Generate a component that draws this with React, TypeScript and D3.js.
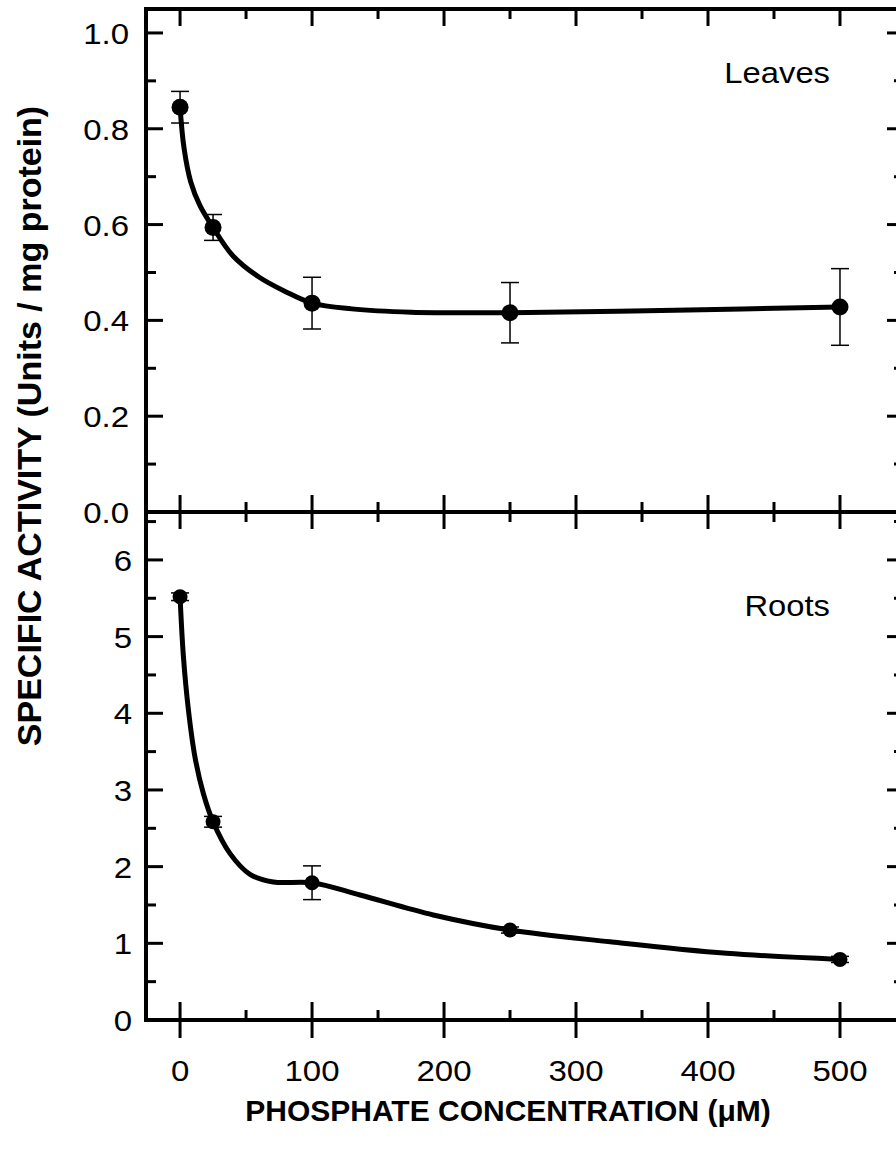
import React from "react";
import * as d3 from "d3";

// measured points (phosphate concentration in uM)
const concentrations = [0, 25, 100, 250, 500];
const leavesActivity = [0.845, 0.594, 0.436, 0.416, 0.428];
const leavesError = [0.033, 0.027, 0.054, 0.063, 0.08];
const rootsActivity = [5.52, 2.585, 1.79, 1.173, 0.79];
const rootsError = [0.05, 0.07, 0.22, 0.04, 0.04];

// fitted curves
const leavesFitX = [0, 3, 8, 15, 25, 40, 60, 80, 100, 130, 175, 250, 375, 500];
const leavesFitY = [0.845, 0.76, 0.69, 0.64, 0.594, 0.535, 0.49, 0.46, 0.436, 0.424, 0.417, 0.416, 0.421, 0.428];
const rootsFitX = [0, 2.5, 6.3, 11.4, 17.7, 25, 37.9, 53, 70.7, 100, 136.4, 191.9, 250, 325.8, 414, 500];
const rootsFitY = [5.52, 4.75, 4.05, 3.42, 2.95, 2.585, 2.17, 1.9, 1.8, 1.79, 1.63, 1.37, 1.173, 1.02, 0.87, 0.79];

// ticks
const xMajor = [0, 100, 200, 300, 400, 500];
const xMinor = [50, 150, 250, 350, 450];
const leavesMajor = [0, 0.2, 0.4, 0.6, 0.8, 1.0];
const leavesMinor = [0.1, 0.3, 0.5, 0.7, 0.9];
const rootsMajor = [0, 1, 2, 3, 4, 5, 6];
const rootsMinor = [0.5, 1.5, 2.5, 3.5, 4.5, 5.5, 6.5];

const W = 896;
const H = 1152;
const left = 146;
const right = 904;
const top = 9;
const mid = 512;
const bottom = 1020;
const MAJ = 17;
const MIN = 10;
const font = "'Liberation Sans', Arial, Helvetica, sans-serif";
const SX = 1.1; // labels in the figure are a bit wide

const x = d3.scaleLinear().domain([-25.8, 548.5]).range([left, right]);
const yLeaves = d3.scaleLinear().domain([0, 1.05]).range([mid, top]);
const yRoots = d3.scaleLinear().domain([0, 6.625]).range([bottom, mid]);

function Label({ x: tx, y: ty, anchor, size, sx, children }: any) {
  return (
    <text
      transform={`translate(${tx},${ty}) scale(${sx},1)`}
      textAnchor={anchor}
      fontSize={size}
      fontFamily={font}
      fill="#000"
      stroke="none"
    >
      {children}
    </text>
  );
}

function Panel({ y, values, errors, fitX, fitY, r, label, labelY }: any) {
  const line = d3
    .line<number>()
    .x((d, i) => x(fitX[i]))
    .y((d) => y(d))
    .curve(d3.curveCatmullRom.alpha(0.5));
  return (
    <g>
      <path d={line(fitY) || ""} fill="none" stroke="#000" strokeWidth={5} strokeLinejoin="round" />
      {concentrations.map((c, i) => {
        const cx = x(c);
        const hi = y(values[i] + errors[i]);
        const lo = y(values[i] - errors[i]);
        return (
          <g key={i}>
            <line x1={cx} x2={cx} y1={hi} y2={lo} stroke="#000" strokeWidth={1.5} />
            <line x1={cx - 9} x2={cx + 9} y1={hi} y2={hi} stroke="#000" strokeWidth={1.5} />
            <line x1={cx - 9} x2={cx + 9} y1={lo} y2={lo} stroke="#000" strokeWidth={1.5} />
            <circle cx={cx} cy={y(values[i])} r={r} fill="#000" />
          </g>
        );
      })}
      <Label x={830} y={labelY} anchor="end" size={29} sx={1.13}>
        {label}
      </Label>
    </g>
  );
}

function YTicks({ y, major, minor, fmt, labelX }: any) {
  return (
    <g stroke="#000" strokeWidth={3}>
      {major.map((t: number) => (
        <g key={"M" + t}>
          <line x1={left} x2={left + MAJ} y1={y(t)} y2={y(t)} />
          <line x1={right} x2={right - MAJ} y1={y(t)} y2={y(t)} />
          <Label x={labelX} y={y(t) + 11} anchor="end" size={30} sx={SX}>
            {fmt(t)}
          </Label>
        </g>
      ))}
      {minor.map((t: number) => (
        <g key={"m" + t}>
          <line x1={left} x2={left + MIN} y1={y(t)} y2={y(t)} />
          <line x1={right} x2={right - MIN} y1={y(t)} y2={y(t)} />
        </g>
      ))}
    </g>
  );
}

export default function App() {
  return (
    <svg
      width={W}
      height={H}
      style={{ position: "absolute", left: 0, top: 0, display: "block", background: "#fff" }}
    >
      <rect x={0} y={0} width={W} height={H} fill="#fff" />

      {/* x ticks: top border, divider, bottom axis */}
      <g stroke="#000" strokeWidth={3}>
        {xMajor.map((t) => (
          <g key={"xM" + t}>
            <line x1={x(t)} x2={x(t)} y1={top} y2={top + MAJ} />
            <line x1={x(t)} x2={x(t)} y1={mid - MAJ} y2={mid + MAJ} />
            <line x1={x(t)} x2={x(t)} y1={bottom - 18} y2={bottom + 18} />
          </g>
        ))}
        {xMinor.map((t) => (
          <g key={"xm" + t}>
            <line x1={x(t)} x2={x(t)} y1={top} y2={top + MIN} />
            <line x1={x(t)} x2={x(t)} y1={mid - MIN} y2={mid + MIN} />
            <line x1={x(t)} x2={x(t)} y1={bottom - MIN} y2={bottom} />
          </g>
        ))}
      </g>

      <YTicks y={yLeaves} major={leavesMajor} minor={leavesMinor} fmt={d3.format(".1f")} labelX={129} />
      <YTicks y={yRoots} major={rootsMajor} minor={rootsMinor} fmt={d3.format("d")} labelX={132} />

      {/* frame */}
      <g stroke="#000" strokeWidth={4} fill="none">
        <rect x={left} y={top} width={right - left} height={bottom - top} />
        <line x1={left} x2={right} y1={mid} y2={mid} />
      </g>

      {xMajor.map((t) => (
        <Label key={"xl" + t} x={x(t)} y={1081} anchor="middle" size={30} sx={SX}>
          {t}
        </Label>
      ))}

      <Panel
        y={yLeaves}
        values={leavesActivity}
        errors={leavesError}
        fitX={leavesFitX}
        fitY={leavesFitY}
        r={8.5}
        label="Leaves"
        labelY={83}
      />
      <Panel
        y={yRoots}
        values={rootsActivity}
        errors={rootsError}
        fitX={rootsFitX}
        fitY={rootsFitY}
        r={7.5}
        label="Roots"
        labelY={616}
      />

      <text x={508} y={1121} textAnchor="middle" fontSize={30} fontWeight="bold" fontFamily={font}>
        PHOSPHATE CONCENTRATION (μM)
      </text>
      <text
        transform="translate(41,426) rotate(-90)"
        textAnchor="middle"
        fontSize={34}
        fontWeight="bold"
        fontFamily={font}
      >
        SPECIFIC ACTIVITY (Units / mg protein)
      </text>
    </svg>
  );
}
